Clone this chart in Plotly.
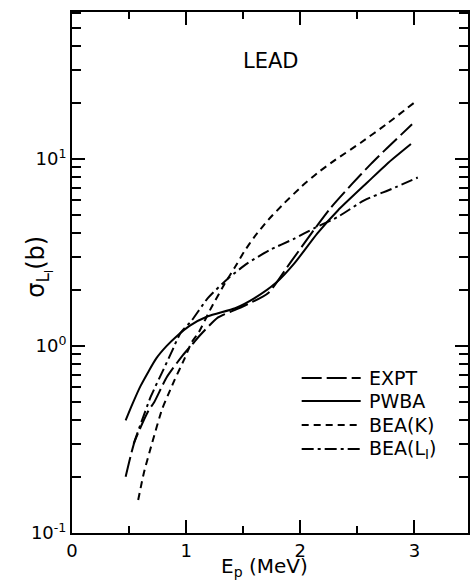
import plotly.graph_objects as go

# Proton energy (MeV) and L_I subshell ionization cross sections (barns)
expt_e = [0.47, 0.55, 0.67, 0.72, 0.83, 0.97, 1.06, 1.11, 1.28, 1.43, 1.52, 1.72, 1.91, 2.12, 2.27, 2.45, 2.62, 2.74, 2.98]
expt_s = [0.20, 0.31, 0.45, 0.50, 0.68, 0.89, 1.03, 1.12, 1.42, 1.56, 1.65, 1.92, 2.77, 4.17, 5.5, 7.3, 9.4, 11.1, 15.3]

pwba_e = [0.47, 0.53, 0.60, 0.74, 0.83, 0.92, 1.03, 1.19, 1.43, 1.60, 1.79, 1.95, 2.15, 2.33, 2.59, 2.76, 2.97]
pwba_s = [0.40, 0.49, 0.61, 0.86, 1.00, 1.13, 1.28, 1.44, 1.59, 1.80, 2.18, 2.77, 4.0, 5.3, 7.5, 9.4, 12.0]

beak_e = [0.58, 0.63, 0.70, 0.79, 0.86, 0.90, 0.98, 1.05, 1.11, 1.22, 1.34, 1.43, 1.51, 1.60, 1.72, 1.86, 2.01, 2.15, 2.31, 2.53, 2.76, 3.00]
beak_s = [0.15, 0.21, 0.30, 0.46, 0.58, 0.66, 0.84, 1.05, 1.18, 1.60, 2.16, 2.65, 3.2, 3.84, 4.72, 5.8, 7.1, 8.4, 9.9, 12.2, 15.4, 20.0]

beal_e = [0.54, 0.60, 0.69, 0.80, 0.87, 0.95, 1.05, 1.19, 1.37, 1.54, 1.73, 1.95, 2.12, 2.33, 2.56, 2.80, 3.03]
beal_s = [0.30, 0.38, 0.535, 0.745, 0.92, 1.17, 1.37, 1.80, 2.30, 2.77, 3.25, 3.75, 4.25, 4.9, 6.0, 6.9, 7.95]

series_names = ["EXPT", "PWBA", "BEA(K)", "BEA(L<sub>I</sub>)"]

x_ticks = [0, 1, 2, 3]
x_minor = [0.5, 1.5, 2.5]
y_ticks = [0.1, 1, 10]
y_ticktext = ["10<sup>-1</sup>", "10<sup>0</sup>", "10<sup>1</sup>"]
y_minor = [m * 10 ** k for k in (-1, 0, 1) for m in range(2, 10) if m * 10 ** k <= 60]

FONT = "DejaVu Sans"

fig = go.Figure()
styles = [
    (expt_e, expt_s, "20px,5px"),
    (pwba_e, pwba_s, "solid"),
    (beak_e, beak_s, "7px,5px"),
    (beal_e, beal_s, "12px,4px,3px,4px"),
]
for name, (e, s, dash) in zip(series_names, styles):
    fig.add_trace(go.Scatter(
        x=e, y=s, mode="lines", name=name, showlegend=False,
        line=dict(color="black", width=2, dash=dash, shape="spline", smoothing=0.6),
    ))

# key drawn beside the curves, as in the original figure
key_x0, key_x1, key_tx = 0.580, 0.729, 0.744
key_y = [0.2975, 0.2534, 0.2073, 0.1612]
for name, (_, _, dash), ky in zip(series_names, styles, key_y):
    fig.add_shape(type="line", xref="paper", yref="paper", x0=key_x0, x1=key_x1, y0=ky, y1=ky,
                  line=dict(color="black", width=2, dash=dash))
    fig.add_annotation(text=name, xref="paper", yref="paper", x=key_tx, y=ky,
                       xanchor="left", yanchor="middle", showarrow=False,
                       font=dict(family=FONT, size=19, color="black"))

axis_common = dict(
    showline=True, linecolor="black", linewidth=2, mirror="ticks",
    ticks="inside", tickcolor="black", tickwidth=2, ticklen=13,
    showgrid=False, zeroline=False,
    tickfont=dict(family=FONT, size=18, color="black"),
)

fig.update_xaxes(
    range=[0, 3.47], tickmode="array", tickvals=x_ticks,
    minor=dict(tickmode="array", tickvals=x_minor, ticks="inside", ticklen=7,
               tickcolor="black", tickwidth=2, showgrid=False),
    **axis_common,
)
fig.update_yaxes(
    type="log", range=[-1, 1.785], tickmode="array", tickvals=y_ticks, ticktext=y_ticktext,
    minor=dict(tickmode="array", tickvals=y_minor, ticks="inside", ticklen=9,
               tickcolor="black", tickwidth=2, showgrid=False),
    **axis_common,
)

fig.add_annotation(text="LEAD", xref="paper", yref="paper", x=0.5025, y=0.933,
                   showarrow=False, font=dict(family=FONT, size=21, color="black"))
fig.add_annotation(text="E<sub>p</sub> (MeV)", xref="paper", yref="paper", x=0.485, y=-0.066,
                   yanchor="middle", showarrow=False, font=dict(family=FONT, size=20, color="black"))
fig.add_annotation(text="σ<sub>L<sub>I</sub></sub>(b)", xref="paper", yref="paper", x=-0.13, y=0.51,
                   textangle=-90, showarrow=False, font=dict(family=FONT, size=24, color="black"))

fig.update_layout(
    width=471, height=580,
    margin=dict(l=72, r=1, t=12, b=47),
    paper_bgcolor="white", plot_bgcolor="white",
    showlegend=False,
)

fig.write_html("out.html")
